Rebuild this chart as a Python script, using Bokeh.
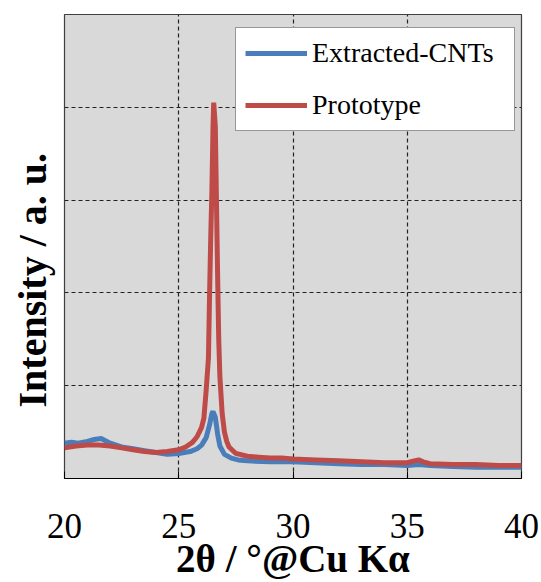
from bokeh.plotting import figure
from bokeh.models import FixedTicker, Title, Legend, LegendItem
from bokeh.embed import file_html
from bokeh.resources import INLINE

# ---- data ----
cnt_x = [20.0, 20.3, 20.6, 21.0, 21.3, 21.6, 22.0, 22.5, 23.0, 23.5, 24.0, 24.5, 25.0, 25.5,
         25.8, 26.0, 26.2, 26.35, 26.45, 26.5, 26.6, 26.7, 26.8, 27.0, 27.3, 27.6, 28.0,
         29.0, 30.0, 31.0, 32.0, 33.0, 34.0, 35.0, 35.5, 36.0, 37.0, 38.0, 39.0, 40.0]
cnt_y = [0.38, 0.39, 0.38, 0.40, 0.42, 0.43, 0.38, 0.34, 0.32, 0.30, 0.28, 0.26, 0.27, 0.29,
         0.32, 0.36, 0.44, 0.58, 0.70, 0.72, 0.66, 0.48, 0.35, 0.26, 0.22, 0.20, 0.19,
         0.18, 0.18, 0.17, 0.16, 0.15, 0.15, 0.14, 0.15, 0.14, 0.13, 0.12, 0.12, 0.12]

proto_x = [20.0, 20.5, 21.0, 21.5, 22.0, 22.5, 23.0, 23.5, 24.0, 24.5, 25.0, 25.3, 25.6,
           25.8, 26.0, 26.1, 26.2, 26.3, 26.35, 26.4, 26.45, 26.5, 26.53, 26.6, 26.65,
           26.7, 26.75, 26.8, 26.9, 27.0, 27.1, 27.2, 27.5, 28.0, 28.5, 29.0, 29.5, 30.0,
           31.0, 32.0, 33.0, 34.0, 35.0, 35.3, 35.5, 35.7, 36.0, 37.0, 38.0, 39.0, 40.0]
proto_y = [0.33, 0.35, 0.36, 0.36, 0.35, 0.33, 0.31, 0.29, 0.28, 0.29, 0.31, 0.34, 0.39,
           0.45, 0.55, 0.65, 0.95, 1.30, 2.00, 2.60, 3.10, 3.80, 4.05, 3.80, 3.00,
           2.20, 1.50, 1.10, 0.70, 0.50, 0.40, 0.34, 0.27, 0.24, 0.23, 0.22, 0.22, 0.21,
           0.20, 0.19, 0.18, 0.17, 0.17, 0.19, 0.20, 0.18, 0.16, 0.15, 0.15, 0.14, 0.14]

x_ticks = [20, 25, 30, 35, 40]
y_grid = [1, 2, 3, 4]
series_names = ["Extracted-CNTs", "Prototype"]
x_label = "2θ / °@Cu Kα"
y_label = "Intensity / a. u."

FONT = "Liberation Serif"

p = figure(width=541, height=582, output_backend="svg", toolbar_location=None,
           x_range=(20, 40), y_range=(0, 5),
           min_border_left=64, min_border_right=20, min_border_top=14, min_border_bottom=103)

p.background_fill_color = "#d9d9d9"
p.border_fill_color = "white"
p.outline_line_color = "#404040"
p.outline_line_width = 1.2

blue = p.line(cnt_x, cnt_y, line_color="#4a7ebb", line_width=5)
red = p.line(proto_x, proto_y, line_color="#be4b48", line_width=5)

# axes
p.yaxis.visible = False
p.xaxis.ticker = FixedTicker(ticks=x_ticks)
p.xgrid.ticker = FixedTicker(ticks=x_ticks)
p.ygrid.ticker = FixedTicker(ticks=y_grid)
p.xaxis.major_tick_in = 7
p.xaxis.major_tick_out = 0
p.xaxis.minor_tick_line_color = None
p.xaxis.axis_line_color = "black"
p.xaxis.major_tick_line_color = "black"
p.xaxis.major_label_text_font = FONT
p.xaxis.major_label_text_font_size = "35px"
p.xaxis.major_label_text_color = "black"
p.xaxis.major_label_standoff = 35

p.xaxis.axis_label = x_label
p.xaxis.axis_label_text_font = FONT
p.xaxis.axis_label_text_font_size = "39px"
p.xaxis.axis_label_text_font_style = "bold"
p.xaxis.axis_label_text_color = "black"
p.xaxis.axis_label_standoff = -4

for g in (p.xgrid, p.ygrid):
    g.grid_line_color = "#222222"
    g.grid_line_dash = "4 3"
    g.grid_line_width = 1.2

p.add_layout(Title(text=y_label, align="left", offset=71, standoff=16, vertical_align="top",
                   text_font=FONT, text_font_size="40px", text_font_style="bold",
                   text_color="black"), "left")

legend = Legend(items=[LegendItem(label=series_names[0], renderers=[blue]),
                       LegendItem(label=series_names[1], renderers=[red])],
                location=(171, 347))
legend.label_text_font = FONT
legend.label_text_font_size = "28px"
legend.label_text_color = "black"
legend.glyph_width = 62
legend.glyph_height = 30
legend.label_height = 30
legend.label_width = 193
legend.label_standoff = 5
legend.spacing = 20
legend.padding = 9
legend.margin = 0
legend.border_line_color = "#303030"
legend.border_line_width = 1.5
legend.background_fill_color = "white"
legend.background_fill_alpha = 1.0
p.add_layout(legend, "center")

open("out.html", "w").write(file_html(p, INLINE))
